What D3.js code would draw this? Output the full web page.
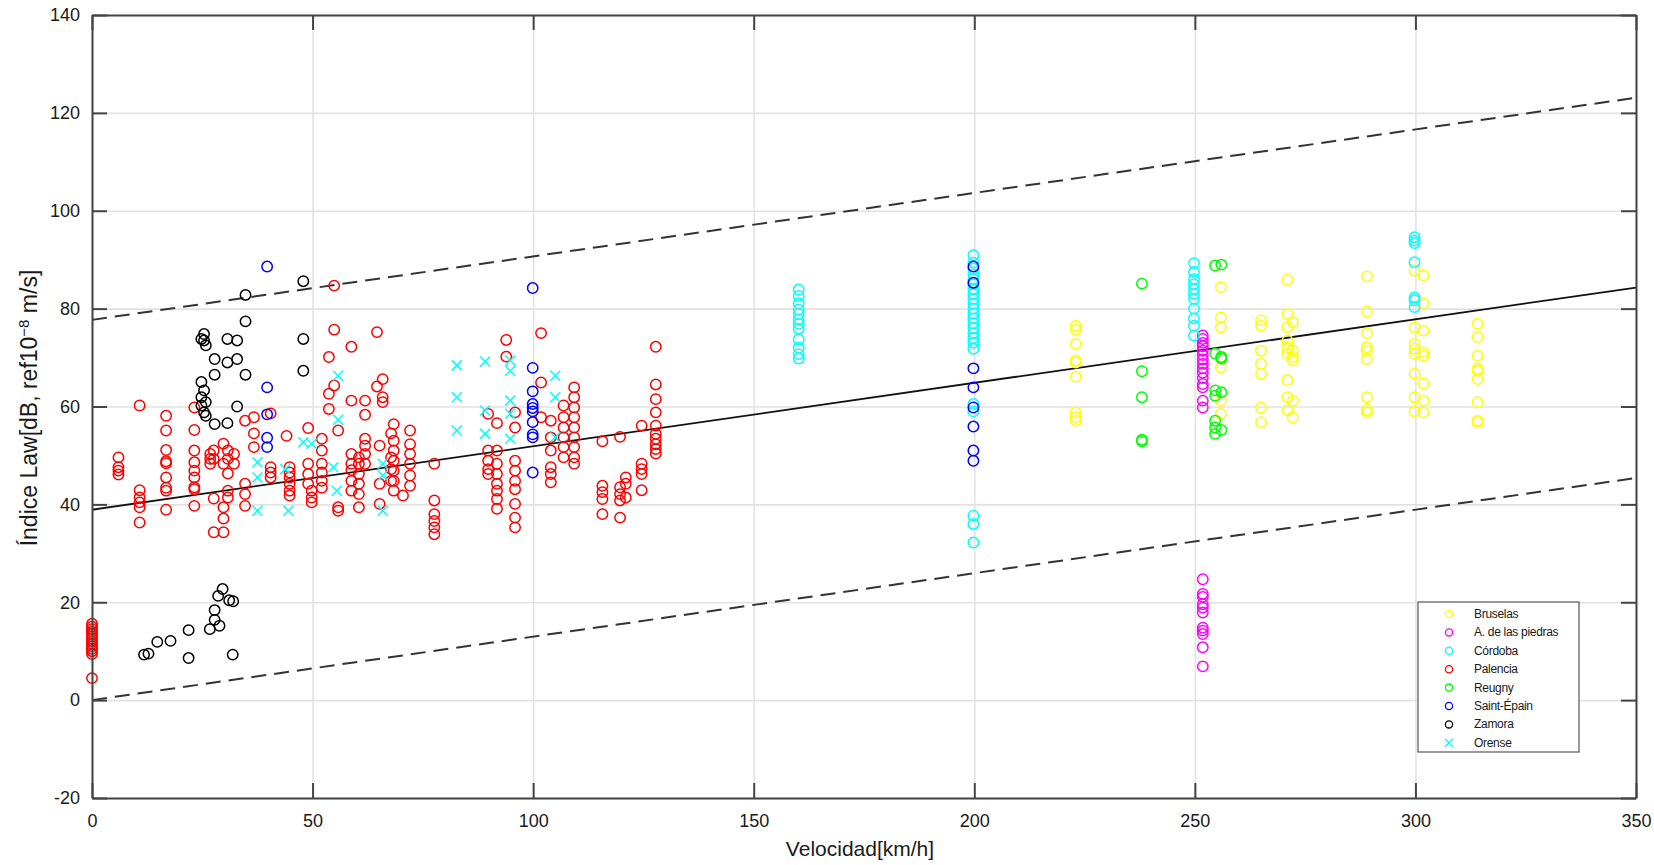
<!DOCTYPE html>
<html>
<head>
<meta charset="utf-8">
<script src="https://cdn.jsdelivr.net/npm/d3@7"></script>
<style>
  body { margin: 0; background: #fff; }
  svg { display: block; }
  text { font-family: "Liberation Sans", Arial, sans-serif; fill: #1a1a1a; }
</style>
</head>
<body>
<svg id="chart" width="1654" height="865"></svg>
<script>
// datos: [velocidad, [valores Law]]
var bruselas = [
  [223, [76.5, 75.7, 72.8, 69.4, 69.0, 66.1, 58.8, 57.8, 57.1]],
  [255.9, [84.4, 78.2, 76.2, 70.1, 68.0, 61.2, 58.5]],
  [265, [77.6, 76.5, 71.4, 68.7, 66.7, 59.8, 56.8]],
  [271, [85.9, 78.9, 76.2, 73.5, 72.1, 70.8, 65.4, 61.9, 59.2]],
  [272.2, [77.2, 71.4, 70.1, 69.4, 61.2, 57.8]],
  [289, [86.6, 79.4, 75.0, 72.1, 71.4, 69.7, 61.9, 59.3, 58.8]],
  [299.8, [87.8, 76.2, 72.8, 71.8, 70.8, 66.7, 61.9, 59.0]],
  [301.8, [86.8, 81.1, 75.5, 71.1, 70.4, 64.7, 61.2, 58.8]],
  [314.1, [76.9, 74.2, 70.4, 67.7, 67.3, 65.6, 60.9, 57.1, 56.8]]
];
var piedras = [
  [251.8, [74.5, 73.8, 73.0, 72.3, 71.4, 70.5, 69.6, 68.7, 67.8, 66.9, 65.8, 64.6, 63.9, 61.2, 59.8,
           24.7, 21.7, 21.1, 19.6, 18.9, 17.9, 14.8, 14.2, 13.5, 10.8, 6.9]]
];
var cordoba = [
  [160.2, [83.9, 82.6, 81.1, 79.8, 78.9, 77.8, 76.9, 75.9, 73.7, 72.0, 70.7, 69.8]],
  [199.8, [90.9, 89.4, 88.2, 87.0, 86.0, 85.0, 84.0, 83.0, 82.0, 81.0, 80.0, 79.0, 78.0, 77.0,
           76.0, 75.0, 74.0, 73.0, 71.8, 60.5, 59.0, 37.7, 36.0, 32.2]],
  [249.8, [89.3, 87.5, 86.0, 85.0, 84.0, 83.0, 82.0, 80.0, 78.0, 76.5, 74.5]],
  [299.8, [94.6, 93.9, 93.4, 89.5, 82.3, 81.7, 80.3]]
];
var palencia = [
  [0, [15.6, 15.0, 14.5, 14.0, 13.5, 13.0, 12.5, 12.0, 11.5, 11.0, 10.5, 10.0, 9.4, 4.5]],
  [6, [49.6, 47.6, 46.9, 46.1]],
  [10.8, [60.2, 42.9, 41.4, 40.4, 39.4, 36.3]],
  [16.8, [58.1, 55.1, 51.1, 48.8, 48.4, 45.5, 43.4, 42.8, 38.9]],
  [23.2, [59.8, 55.2, 51.0, 48.6, 46.9, 45.5, 43.5, 43.1, 39.7]],
  [26.8, [50.3, 49.3, 48.3]],
  [27.6, [51.0, 49.3, 41.2, 34.3]],
  [29.8, [52.4, 48.3, 39.4, 37.1, 34.3]],
  [30.8, [51.0, 49.3, 46.3, 42.8, 41.4]],
  [32.2, [50.3, 48.3]],
  [34.7, [57.1, 44.2, 42.1, 39.7]],
  [36.7, [57.8, 54.5, 51.7]],
  [40.5, [58.6, 47.6, 46.5, 45.5]],
  [44.1, [54.0]],
  [44.8, [47.6, 46.5, 45.5, 44.2, 42.8, 41.8]],
  [49.0, [55.6, 48.3, 46.2, 44.2]],
  [49.8, [42.8, 41.4, 40.4]],
  [52.1, [53.4, 51.0, 48.3, 46.5, 44.8, 43.4]],
  [53.7, [70.1, 62.6, 59.5]],
  [54.9, [84.7, 75.7, 64.3]],
  [55.8, [55.1, 39.4, 38.7]],
  [58.8, [72.2, 61.2, 50.3, 48.3, 47.0, 44.8, 42.8]],
  [60.5, [49.6, 48.3, 46.2, 44.2, 42.1, 39.4]],
  [61.9, [61.2, 58.3, 53.4, 52.0, 50.3, 48.3]],
  [64.6, [75.2, 64.1]],
  [65.2, [52.0, 44.2, 40.1]],
  [65.9, [65.6, 61.9, 60.9]],
  [67.8, [54.5, 49.6, 47.2, 44.8]],
  [68.4, [56.4, 53.0, 51.0, 48.9, 46.9, 44.8, 42.8]],
  [70.5, [41.8]],
  [72.1, [55.1, 52.3, 50.3, 48.3, 45.9, 43.8]],
  [77.6, [48.3, 40.8, 38.0, 36.6, 35.3, 33.9]],
  [89.8, [58.5, 51.0, 48.9, 47.2, 46.2]],
  [91.8, [56.6, 51.0, 48.3, 46.2, 44.2, 42.8, 41.1, 39.1]],
  [93.9, [73.6, 70.2]],
  [95.9, [58.8, 55.7, 48.9, 46.9, 44.8, 43.1, 40.1, 37.3, 35.3]],
  [101.8, [75.0, 64.9, 57.8]],
  [104.0, [57.1, 53.7, 51.0, 47.6, 46.2, 44.5]],
  [106.9, [60.2, 57.8, 55.7, 53.7, 51.7, 49.6]],
  [109.3, [63.9, 61.9, 59.8, 57.8, 55.7, 53.7, 51.7, 49.6, 48.3]],
  [115.7, [52.9, 43.8, 42.5, 41.1, 38.0]],
  [119.7, [53.8, 43.5, 42.1, 40.8, 37.3]],
  [121.0, [45.5, 44.2, 41.4]],
  [124.6, [56.1, 48.3, 47.2, 46.2, 42.9]],
  [127.8, [72.2, 64.5, 61.5, 58.8, 56.1, 54.4, 53.4, 52.3, 51.3, 50.4]]
];
var reugny = [
  [238, [85.1, 67.2, 61.9, 53.2, 52.9]],
  [254.6, [88.8, 70.8, 63.3, 62.2, 57.1, 55.7, 54.4]],
  [256, [89.0, 70.1, 69.8, 62.9, 55.2]]
];
var saintEpain = [
  [39.7, [88.6, 63.9, 58.4, 53.6, 51.7]],
  [99.9, [84.2, 67.9, 63.1, 60.5, 59.7, 59.0, 56.8, 54.3, 53.7, 46.5]],
  [199.8, [88.6, 85.3, 67.8, 63.9, 59.8, 55.9, 51.0, 48.9]]
];
var zamora = [
  [11.8, [9.3]], [12.8, [9.5]], [14.8, [11.9]], [17.8, [12.1]], [21.9, [14.3, 8.6]],
  [24.8, [73.8, 65.0, 61.9, 60.2]], [25.4, [74.8, 73.5, 63.3, 58.8]], [25.8, [72.5, 60.9, 58.1]],
  [26.7, [14.5]], [27.8, [69.7, 66.5, 56.4, 16.4, 18.4]], [28.6, [21.3]], [28.9, [15.2]],
  [29.6, [22.7]], [30.7, [73.8, 69.0, 56.6]], [31.1, [20.4]], [31.9, [9.3]], [32.0, [20.2]],
  [32.9, [73.5, 69.7, 60.0]], [34.8, [82.8, 77.4, 66.5]], [47.9, [85.6, 73.8, 67.3]]
];
var orense = [
  [37.5, [48.6, 45.5, 38.7]], [43.8, [47.2]], [44.5, [38.7]], [47.9, [52.7]], [49.8, [52.4]],
  [54.7, [47.6]], [55.5, [42.8]], [55.8, [66.3, 57.3]], [65.9, [48.3, 45.9, 38.7]],
  [82.7, [68.4, 61.9, 55.1]], [89.1, [69.2, 59.2, 54.4]],
  [94.8, [69.4, 67.3, 61.2, 58.5, 53.4]], [105, [66.3, 61.9, 53.7]]
];

// rectas de ajuste (extremos en 0 y 350 km/h)
var lineX = [0, 350];
var fitY = [38.9, 84.3];
var upperY = [77.7, 123.1];
var lowerY = [0, 45.4];

var xTicks = [0, 50, 100, 150, 200, 250, 300, 350];
var yTicks = [-20, 0, 20, 40, 60, 80, 100, 120, 140];

var series = [
  { name: "Bruselas", data: bruselas, color: "#ffff00", mark: "o" },
  { name: "A. de las piedras", data: piedras, color: "#ff00ff", mark: "o" },
  { name: "Córdoba", data: cordoba, color: "#00ffff", mark: "o" },
  { name: "Palencia", data: palencia, color: "#ff0000", mark: "o" },
  { name: "Reugny", data: reugny, color: "#00ff00", mark: "o" },
  { name: "Saint-Épain", data: saintEpain, color: "#0000ff", mark: "o" },
  { name: "Zamora", data: zamora, color: "#000000", mark: "o" },
  { name: "Orense", data: orense, color: "#00ffff", mark: "x" }
];

var svg = d3.select("#chart");
// margenes del area de dibujo (no usar "top": choca con window.top)
var pLeft = 92, pRight = 1636, pTop = 15, pBottom = 798;

var x = d3.scaleLinear().domain([0, 350]).range([pLeft, pRight]);
var y = d3.scaleLinear().domain([-20, 140]).range([pBottom, pTop]);

// rejilla
var grid = svg.append("g").attr("class", "grid");
grid.append("g")
  .attr("transform", "translate(0," + pBottom + ")")
  .call(d3.axisBottom(x).tickValues(xTicks).tickSize(-(pBottom - pTop)).tickFormat(""));
grid.append("g")
  .attr("transform", "translate(" + pLeft + ",0)")
  .call(d3.axisLeft(y).tickValues(yTicks).tickSize(-(pRight - pLeft)).tickFormat(""));
grid.selectAll("line").attr("stroke", "#e2e2e2").attr("stroke-width", 1.6);
grid.selectAll(".domain").remove();

// rectas
function drawLine(ys, dashed, color) {
  svg.append("line")
    .attr("x1", x(lineX[0])).attr("y1", y(ys[0]))
    .attr("x2", x(lineX[1])).attr("y2", y(ys[1]))
    .attr("stroke", color)
    .attr("stroke-width", dashed ? 2 : 1.8)
    .attr("stroke-dasharray", dashed ? "15,8" : null);
}
drawLine(fitY, false, "#111");
drawLine(upperY, true, "#333");
drawLine(lowerY, true, "#333");

// puntos
series.forEach(function(s) {
  var pts = [];
  s.data.forEach(function(col) {
    col[1].forEach(function(v) { pts.push([col[0], v]); });
  });
  var g = svg.append("g").attr("class", "serie");
  if (s.mark === "o") {
    g.selectAll("circle").data(pts).enter().append("circle")
      .attr("cx", function(d) { return x(d[0]); })
      .attr("cy", function(d) { return y(d[1]); })
      .attr("r", 5.2)
      .attr("fill", "none")
      .attr("stroke", s.color)
      .attr("stroke-width", 1.5);
  } else {
    g.selectAll("path").data(pts).enter().append("path")
      .attr("d", function(d) {
        var cx = x(d[0]), cy = y(d[1]), k = 5;
        return "M" + (cx - k) + "," + (cy - k) + "L" + (cx + k) + "," + (cy + k) +
               "M" + (cx - k) + "," + (cy + k) + "L" + (cx + k) + "," + (cy - k);
      })
      .attr("stroke", s.color)
      .attr("stroke-width", 1.5);
  }
});

// ejes con marcas hacia dentro (guion simple para los negativos, como en el original)
var fmt = function(d) { return String(d); };
var axes = svg.append("g").attr("class", "axes");
axes.append("g").attr("transform", "translate(0," + pBottom + ")")
  .call(d3.axisBottom(x).tickValues(xTicks).tickFormat(fmt).tickSizeInner(-15).tickSizeOuter(0).tickPadding(16));
axes.append("g").attr("transform", "translate(" + pLeft + ",0)")
  .call(d3.axisLeft(y).tickValues(yTicks).tickFormat(fmt).tickSizeInner(-15).tickSizeOuter(0).tickPadding(12));
axes.append("g").attr("transform", "translate(0," + pTop + ")")
  .call(d3.axisTop(x).tickValues(xTicks).tickSizeInner(-15).tickSizeOuter(0).tickFormat(""));
axes.append("g").attr("transform", "translate(" + pRight + ",0)")
  .call(d3.axisRight(y).tickValues(yTicks).tickSizeInner(-15).tickSizeOuter(0).tickFormat(""));
axes.selectAll("line").attr("stroke", "#444").attr("stroke-width", 2);
axes.selectAll(".domain").attr("stroke", "#444").attr("stroke-width", 2);
axes.selectAll("text").attr("font-size", 18).attr("fill", "#1a1a1a")
  .attr("font-family", "'Liberation Sans', Arial, sans-serif");

// titulos de ejes
svg.append("text")
  .attr("x", (pLeft + pRight) / 2 - 4)
  .attr("y", 856)
  .attr("text-anchor", "middle")
  .attr("font-size", 21)
  .text("Velocidad[km/h]");

var yt = svg.append("text")
  .attr("transform", "translate(37," + 408 + ") rotate(-90)")
  .attr("text-anchor", "middle")
  .attr("font-size", 23);
yt.append("tspan").text("Índice Law[dB, ref10");
yt.append("tspan").attr("baseline-shift", "super").attr("font-size", 15).text("−8");
yt.append("tspan").text(" m/s]");

// leyenda
var leg = svg.append("g").attr("transform", "translate(1418,602)");
leg.append("rect")
  .attr("width", 161).attr("height", 150)
  .attr("fill", "#fff").attr("stroke", "#555").attr("stroke-width", 1.2);
series.forEach(function(s, i) {
  var yy = 12 + i * 18.4;
  if (s.mark === "o") {
    leg.append("circle").attr("cx", 31).attr("cy", yy).attr("r", 3.6)
      .attr("fill", "none").attr("stroke", s.color).attr("stroke-width", 1.3);
  } else {
    leg.append("path")
      .attr("d", "M27," + (yy - 4) + "L35," + (yy + 4) + "M27," + (yy + 4) + "L35," + (yy - 4))
      .attr("stroke", s.color).attr("stroke-width", 1.3);
  }
  leg.append("text").attr("x", 56).attr("y", yy + 4)
    .attr("font-size", 12).attr("letter-spacing", -0.3)
    .text(s.name);
});
</script>
</body>
</html>
